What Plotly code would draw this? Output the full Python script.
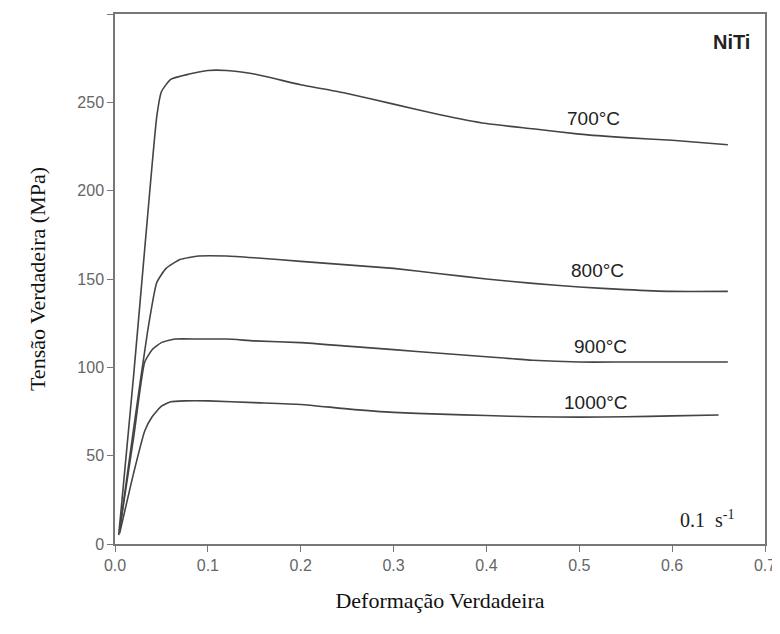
import plotly.graph_objects as go

strain_700 = [0.004, 0.02, 0.035, 0.045, 0.05, 0.06, 0.08, 0.1, 0.12, 0.15, 0.2, 0.25, 0.3, 0.35, 0.4, 0.45, 0.5, 0.55, 0.6, 0.66]
stress_700 = [5, 95, 185, 242, 256, 263, 266, 268, 268, 266, 260, 255, 249, 243, 238, 235, 232, 230, 228.5, 226]

strain_800 = [0.005, 0.02, 0.035, 0.045, 0.055, 0.07, 0.09, 0.12, 0.15, 0.2, 0.25, 0.3, 0.35, 0.4, 0.45, 0.5, 0.55, 0.6, 0.66]
stress_800 = [8, 65, 120, 148, 156, 161, 163, 163, 162, 160, 158, 156, 153, 150, 147.5, 145.5, 144, 143, 143]

strain_900 = [0.005, 0.02, 0.032, 0.04, 0.05, 0.065, 0.09, 0.12, 0.15, 0.2, 0.25, 0.3, 0.35, 0.4, 0.45, 0.5, 0.55, 0.6, 0.66]
stress_900 = [8, 60, 103, 110, 114, 116, 116, 116, 115, 114, 112, 110, 108, 106, 104, 103, 103, 103, 103]

strain_1000 = [0.005, 0.02, 0.032, 0.04, 0.05, 0.06, 0.075, 0.1, 0.15, 0.2, 0.25, 0.3, 0.35, 0.4, 0.45, 0.5, 0.55, 0.6, 0.65]
stress_1000 = [6, 40, 64, 72, 78, 80.5, 81, 81, 80, 79, 76.5, 74.5, 73.5, 72.7, 72, 71.8, 72, 72.5, 73]

curve_labels = ["700°C", "800°C", "900°C", "1000°C"]
label_x = [0.515, 0.52, 0.523, 0.518]
label_y = [241, 155, 112, 80]

series = [(strain_700, stress_700), (strain_800, stress_800), (strain_900, stress_900), (strain_1000, stress_1000)]

fig = go.Figure()
for (xs, ys), name in zip(series, curve_labels):
    fig.add_trace(go.Scatter(x=xs, y=ys, mode="lines", name=name,
                             line=dict(color="#444444", width=1.6, shape="spline", smoothing=0.5),
                             showlegend=False))

for t, x, y in zip(curve_labels, label_x, label_y):
    fig.add_annotation(x=x, y=y, text=t, showarrow=False,
                       font=dict(family="Liberation Sans, Arial", size=19, color="#222"))

fig.add_annotation(x=0.664, y=284, text="<b>NiTi</b>", showarrow=False,
                   font=dict(family="Liberation Sans, Arial", size=20, color="#222"))
fig.add_annotation(x=0.637, y=14, text="0.1  s<sup>-1</sup>", showarrow=False,
                   font=dict(family="Liberation Serif, Times New Roman", size=20, color="#222"))

axis_common = dict(showline=True, linecolor="#777", linewidth=1.5, mirror=True,
                   ticks="outside", tickcolor="#777", ticklen=6, showgrid=False, zeroline=False,
                   tickfont=dict(family="Liberation Sans, Arial", size=16, color="#666"))

fig.update_xaxes(range=[0, 0.7], dtick=0.1, tickformat=".1f",
                 title=dict(text="Deformação Verdadeira", font=dict(family="Liberation Serif, Times New Roman", size=22, color="#111"), standoff=20),
                 **axis_common)
fig.update_yaxes(range=[0, 300], dtick=50,
                 title=dict(text="Tensão Verdadeira (MPa)", font=dict(family="Liberation Serif, Times New Roman", size=22, color="#111"), standoff=26),
                 **axis_common)

fig.update_layout(width=780, height=634, plot_bgcolor="white", paper_bgcolor="white",
                  margin=dict(l=107, r=23, t=6, b=98, autoexpand=False))

fig.write_html("out.html")
